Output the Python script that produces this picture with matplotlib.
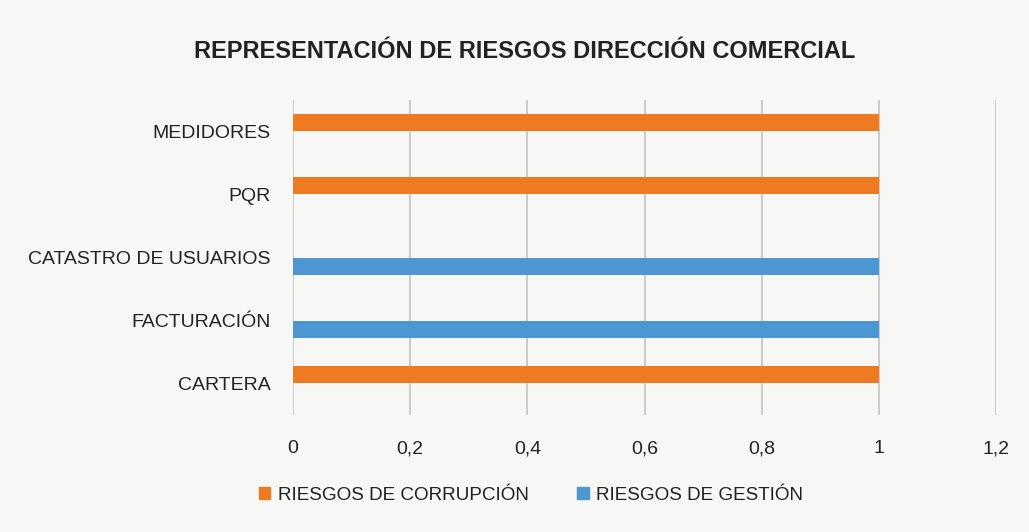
import numpy as np
import matplotlib.pyplot as plt
from matplotlib.patches import Patch

categorias = ["CARTERA", "FACTURACIÓN", "CATASTRO DE USUARIOS", "PQR", "MEDIDORES"]
corrupcion = [1, 0, 0, 1, 1]
gestion = [0, 1, 1, 0, 0]
ticks_x = [0, 0.2, 0.4, 0.6, 0.8, 1, 1.2]
etiquetas_x = ["0", "0,2", "0,4", "0,6", "0,8", "1", "1,2"]

naranja = "#EE7A22"
azul = "#4C96D2"
fondo = "#F7F7F5"

plt.rcParams['font.family'] = ['Liberation Sans', 'DejaVu Sans']

fig = plt.figure(figsize=(10.29, 5.32), dpi=100, facecolor=fondo)
ax = fig.add_axes([293/1029, 1 - 415/532, (996-293)/1029, 315/532])
ax.set_facecolor(fondo)

y = np.arange(len(categorias))
alto = 0.26
ax.barh(y + 0.143, corrupcion, height=alto, color=naranja, zorder=3)
ax.barh(y - 0.143, gestion, height=alto, color=azul, zorder=3)

ax.set_xlim(0, 1.2)
ax.set_ylim(-0.5, len(categorias) - 0.5)
ax.set_xticks(ticks_x)
ax.set_xticklabels(etiquetas_x, fontsize=14, color="#222222")
ax.set_yticks(y)
ax.set_yticklabels(categorias, fontsize=14, color="#222222")
ax.tick_params(length=0, pad=18, axis='x')
ax.tick_params(length=0, pad=16, axis='y')
ax.xaxis.grid(True, color="#C4C4C4", linewidth=1.2, zorder=0)
for s in ax.spines.values():
    s.set_visible(False)

fig.text(525/1029, 1 - 51/532, "REPRESENTACIÓN DE RIESGOS DIRECCIÓN COMERCIAL",
         ha='center', va='center', fontsize=17, fontweight='bold', color="#222222")

handles = [Patch(color=naranja, label="RIESGOS DE CORRUPCIÓN"),
           Patch(color=azul, label="RIESGOS DE GESTIÓN")]
fig.legend(handles=handles, loc='center', bbox_to_anchor=(531/1029, 1 - 495/532), ncol=2,
           frameon=False, fontsize=13.6, handlelength=0.6, handleheight=0.6,
           handletextpad=0.4, columnspacing=2.6, labelcolor="#222222")

fig.savefig("out.png", dpi=100, facecolor=fondo)
